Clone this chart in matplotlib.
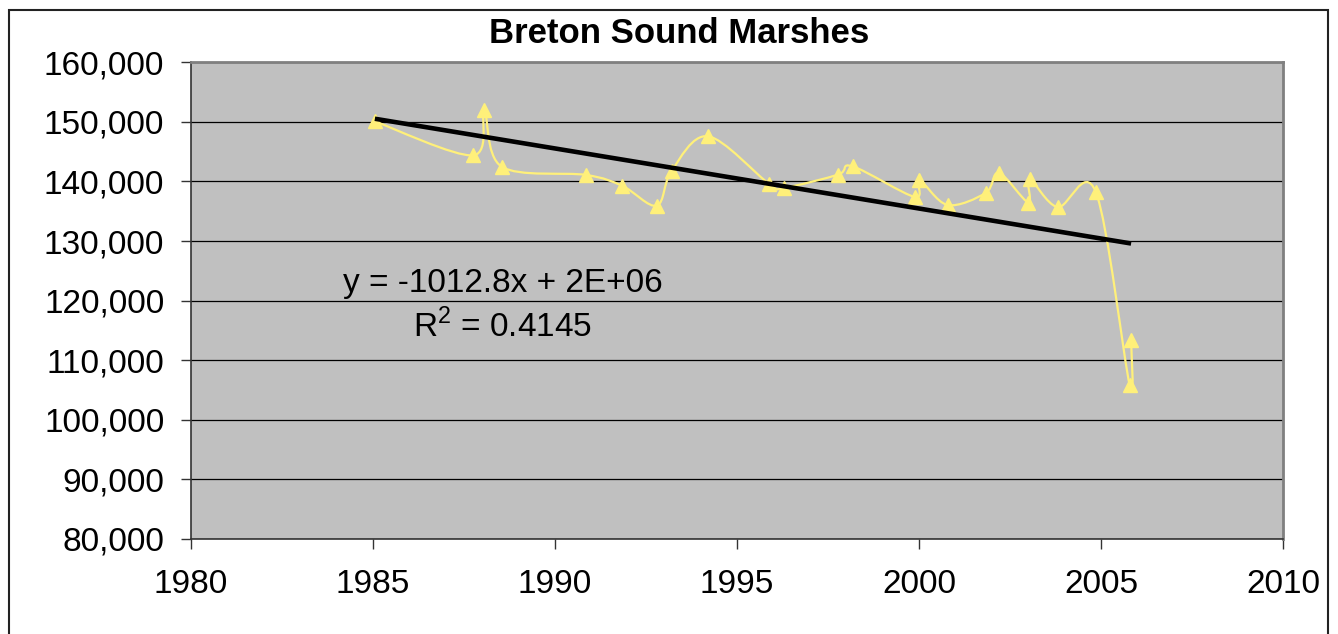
import matplotlib
matplotlib.use('Agg')
import matplotlib.pyplot as plt
import numpy as np
from matplotlib.path import Path
from matplotlib.patches import PathPatch, Rectangle

plt.rcParams['font.family'] = ['Liberation Sans', 'DejaVu Sans']
plt.rcParams['mathtext.fontset'] = 'custom'
plt.rcParams['mathtext.rm'] = 'Liberation Sans'

# survey dates (decimal years) and marsh area
years = [1985.05, 1987.75, 1988.05, 1988.53, 1990.85, 1991.85, 1992.79, 1993.2,
         1994.2, 1995.87, 1996.29, 1997.77, 1998.17, 1999.88, 2000.0, 2000.78,
         2001.83, 2002.19, 2003.0, 2003.03, 2003.8, 2004.85, 2005.78, 2005.82]
area = [150100, 144400, 152000, 142500, 141100, 139250, 135950, 141800,
        147600, 139650, 138950, 141150, 142550, 137400, 140250, 136050,
        138100, 141450, 136450, 140400, 135700, 138250, 105800, 113400]

title = 'Breton Sound Marshes'
yticks = list(range(80000, 160001, 10000))
xticks = [1980, 1985, 1990, 1995, 2000, 2005, 2010]

x = np.array(years)
y = np.array(area)

fig = plt.figure(figsize=(13.38, 6.34), dpi=100)
ax = fig.add_axes([0.14275, 0.15063, 0.81637, 0.75079])
ax.set_facecolor('#C0C0C0')

# smoothed line like the spreadsheet's (Catmull-Rom bezier through the points)
pts = np.column_stack([x, y])
verts = [pts[0]]
codes = [Path.MOVETO]
n = len(pts)
for i in range(n - 1):
    p0 = pts[max(i - 1, 0)]
    p1 = pts[i]
    p2 = pts[i + 1]
    p3 = pts[min(i + 2, n - 1)]
    verts += [p1 + (p2 - p0) / 6, p2 - (p3 - p1) / 6, p2]
    codes += [Path.CURVE4] * 3
ax.add_patch(PathPatch(Path(verts, codes), fill=False, edgecolor='#FFF07A',
                       lw=1.6, zorder=3))
ax.plot(x, y, linestyle='none', marker='^', ms=10.5, color='#FFF07A',
        markeredgecolor='#FFF07A', zorder=4)

# linear trendline
slope, intercept = np.polyfit(x, y, 1)
xt = np.array([x.min(), x.max()])
ax.plot(xt, slope * xt + intercept, color='black', lw=3.3, zorder=5,
        solid_capstyle='butt')

ax.set_xlim(1980, 2010)
ax.set_ylim(80000, 160000)
ax.set_xticks(xticks)
ax.set_yticks(yticks)
ax.set_yticklabels([f'{v:,}' for v in yticks])
ax.yaxis.grid(True, color='black', lw=0.9)
ax.set_axisbelow(True)
ax.tick_params(axis='both', direction='out', length=10 * 0.72, width=1,
               color='#333333', labelsize=24)
ax.tick_params(axis='y', pad=12)
ax.tick_params(axis='x', pad=15)
for s in ['left', 'bottom']:
    ax.spines[s].set_color('#333333')
    ax.spines[s].set_linewidth(1.2)
for s in ['top', 'right']:
    ax.spines[s].set_color('#808080')
    ax.spines[s].set_linewidth(2)

fig.text(0.5075, 0.9327, title, ha='center', va='baseline', fontsize=25,
         fontweight='bold')
fig.text(0.3759, 0.5399, 'y = -1012.8x + 2E+06', ha='center', va='baseline',
         fontsize=24)
fig.text(0.3759, 0.4685, 'R$^2$ = 0.4145', ha='center', va='baseline',
         fontsize=24)

fig.patches.append(Rectangle((9 / 1338, -0.05), 1319 / 1338, 1.05 - 10 / 634,
                             transform=fig.transFigure, fill=False,
                             edgecolor='#222222', lw=1.5, clip_on=False))

fig.savefig('out.png', dpi=100)
